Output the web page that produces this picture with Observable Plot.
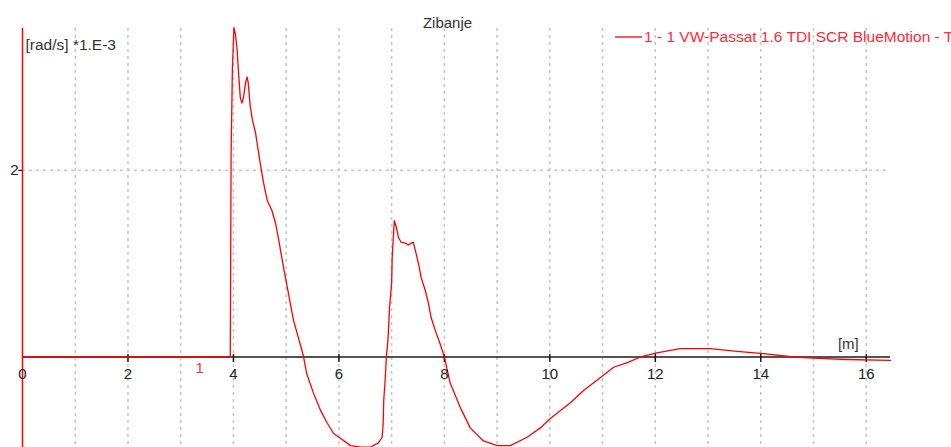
<!DOCTYPE html>
<html><head><meta charset="utf-8">
<script src="https://cdn.jsdelivr.net/npm/d3@7"></script>
<script src="https://cdn.jsdelivr.net/npm/@observablehq/plot@0.6"></script>
<style>html,body{margin:0;padding:0;background:#fff;} svg{display:block;}</style>
</head><body><div id="chart"></div>
<script>
const title = "Zibanje";
const yUnit = "[rad/s] *1.E-3";
const xUnit = "[m]";
const seriesName = "1 - 1 VW-Passat 1.6 TDI SCR BlueMotion - T";
const curveLabel = "1";
const curveLabelAt = 3.36;
const xTicks = [0, 2, 4, 6, 8, 10, 12, 14, 16];
const xGrid = [1, 2, 3, 4, 5, 6, 7, 8, 9, 10, 11, 12, 13, 14, 15, 16];
const yTicks = [2];

const distance = [0, 3.94, 3.956, 3.98, 4.01, 4.04, 4.07, 4.09, 4.11, 4.13, 4.16, 4.19, 4.23, 4.26, 4.28, 4.32, 4.36, 4.42, 4.46, 4.49, 4.53, 4.57, 4.61, 4.64, 4.73, 4.80, 4.86, 4.95, 5.02, 5.08, 5.14, 5.21, 5.30, 5.33, 5.39, 5.52, 5.65, 5.78, 5.90, 6.03, 6.22, 6.41, 6.60, 6.75, 6.82, 6.84, 6.85, 6.88, 6.90, 6.93, 6.94, 6.96, 7.00, 7.01, 7.05, 7.09, 7.13, 7.18, 7.26, 7.32, 7.37, 7.41, 7.45, 7.51, 7.56, 7.64, 7.70, 7.75, 7.83, 7.92, 8.00, 8.11, 8.30, 8.49, 8.74, 9.00, 9.25, 9.57, 9.82, 10.01, 10.39, 10.64, 10.96, 11.21, 11.47, 11.72, 12.03, 12.47, 13.04, 13.55, 14.05, 14.62, 15.00, 15.63, 16.46];
const pitchRate = [0, 0, 2.19, 3.08, 3.53, 3.45, 3.29, 3.10, 2.94, 2.78, 2.72, 2.78, 2.94, 3.00, 2.94, 2.68, 2.54, 2.40, 2.25, 2.14, 2.00, 1.87, 1.76, 1.68, 1.57, 1.43, 1.25, 0.96, 0.75, 0.57, 0.39, 0.25, 0.07, 0, -0.18, -0.39, -0.57, -0.71, -0.82, -0.87, -0.95, -0.965, -0.965, -0.92, -0.86, -0.71, -0.47, -0.22, 0, 0.18, 0.28, 0.53, 0.79, 1.06, 1.46, 1.39, 1.28, 1.23, 1.22, 1.20, 1.22, 1.23, 1.14, 1.00, 0.85, 0.71, 0.57, 0.42, 0.28, 0.14, 0, -0.28, -0.54, -0.76, -0.90, -0.95, -0.95, -0.86, -0.76, -0.66, -0.49, -0.36, -0.22, -0.11, -0.06, 0, 0.045, 0.09, 0.09, 0.06, 0.035, 0, -0.013, -0.027, -0.037];

const data = distance.map((d, i) => ({x: d, y: pitchRate[i]}));
const font = "'Liberation Sans', Arial, sans-serif";

const legendMark = (index, scales, values, dims) => {
  const g = d3.create("svg:g");
  g.append("line").attr("x1", 615).attr("x2", 642).attr("y1", 37).attr("y2", 37)
    .attr("stroke", "#ff0000").attr("stroke-width", 1.3);
  g.append("text").attr("x", 644).attr("y", 37).attr("dy", "0.35em")
    .attr("text-anchor", "start")
    .attr("fill", "#ff2a3a").attr("font-size", 15.5).attr("font-family", font)
    .text(seriesName);
  return g.node();
};

const chart = Plot.plot({
  width: 951, height: 447,
  marginLeft: 22, marginRight: 61, marginTop: 28, marginBottom: 0,
  x: {domain: [0, 16.46], axis: null},
  y: {domain: [-0.97, 3.52], axis: null},
  style: {fontFamily: font, fontSize: "15px", background: "#fff", overflow: "visible"},
  marks: [
    Plot.ruleX(xGrid, {stroke: "#c4c4c4", strokeWidth: 1.5, strokeDasharray: "3,4"}),
    Plot.ruleY(yTicks, {stroke: "#c4c4c4", strokeWidth: 1.5, strokeDasharray: "3,4"}),
    Plot.ruleY([0], {stroke: "#1a1a1a", strokeWidth: 1.5}),
    Plot.ruleX(xTicks.filter(d => d > 0), {y1: 0.027, y2: -0.06, stroke: "#1a1a1a", strokeWidth: 1.5}),
    Plot.ruleY(yTicks, {x1: -0.07, x2: 0, stroke: "#1a1a1a", strokeWidth: 1.2}),
    Plot.ruleX([0], {stroke: "#ff0000", strokeWidth: 1.5}),
    Plot.line(data, {x: "x", y: "y", stroke: "#ff0000", strokeWidth: 1.3}),
    Plot.text(xTicks, {x: d => d, y: 0, dy: 17, text: d => String(d), fill: "#222"}),
    Plot.text(yTicks, {x: 0, y: d => d, dx: -4, textAnchor: "end", text: d => String(d), fill: "#222"}),
    Plot.text([curveLabel], {x: curveLabelAt, y: 0, dy: 11, text: d => d, fill: "#f0325a"}),
    Plot.text([xUnit], {x: 15.66, y: 0, dy: -13, text: d => d, fill: "#333"}),
    Plot.text([yUnit], {frameAnchor: "top-left", dx: 3, dy: 10.5, textAnchor: "start", text: d => d, fill: "#333", fontSize: 15.5}),
    Plot.text([title], {frameAnchor: "top", dx: -9, dy: -11, text: d => d, fill: "#333"}),
    legendMark
  ]
});
document.getElementById("chart").appendChild(chart);
</script>
</body></html>
